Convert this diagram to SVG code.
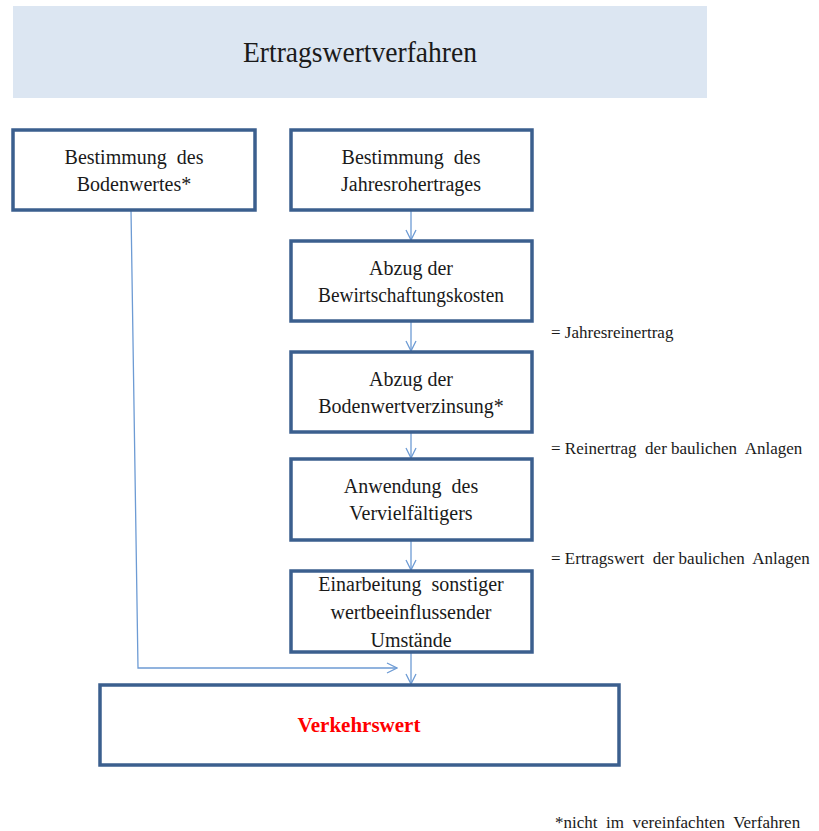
<svg xmlns="http://www.w3.org/2000/svg" width="819" height="831" viewBox="0 0 819 831">
<style>
.box{fill:#fff;stroke:#3b5f8e;stroke-width:3.5}
.t{font-family:'Liberation Serif','Times New Roman',serif;font-size:20px;fill:#1a1a1a;text-anchor:middle}
.a{font-family:'Liberation Serif','Times New Roman',serif;font-size:17px;fill:#1a1a1a}
.c{fill:none;stroke:#6d9bd4;stroke-width:1.3}
</style>
<defs>
<marker id="arr" viewBox="0 0 12 12" refX="11" refY="6" markerWidth="12" markerHeight="12" markerUnits="userSpaceOnUse" orient="auto">
<path d="M1,1 L11,6 L1,11" fill="none" stroke="#6d9bd4" stroke-width="1.3"/>
</marker>
</defs>
<rect width="819" height="831" fill="#fff"/>
<g id="title">
<rect x="13" y="6" width="694" height="92" fill="#dce6f2"/>
<text x="360" y="62" font-family="'Liberation Serif','Times New Roman',serif" font-size="29" fill="#1a1a1a" text-anchor="middle" textLength="234" lengthAdjust="spacingAndGlyphs">Ertragswertverfahren</text>
</g>
<g id="connectors">
<path class="c" d="M411,210 V240" marker-end="url(#arr)"/>
<path class="c" d="M411,321 V351" marker-end="url(#arr)"/>
<path class="c" d="M411,432 V458" marker-end="url(#arr)"/>
<path class="c" d="M411,540 V570" marker-end="url(#arr)"/>
<path class="c" d="M411,652 V684" marker-end="url(#arr)"/>
<path class="c" d="M131,210 L138,668 H397" marker-end="url(#arr)"/>
</g>
<g id="n1" font-family="'Liberation Serif','Times New Roman',serif">
<rect class="box" x="13" y="130" width="242" height="80"/>
<text class="t" x="134" y="164" xml:space="preserve">Bestimmung  des</text>
<text class="t" x="134" y="191">Bodenwertes*</text>
</g>
<g id="n2" font-family="'Liberation Serif','Times New Roman',serif">
<rect class="box" x="291" y="130" width="241" height="80"/>
<text class="t" x="411" y="164" xml:space="preserve">Bestimmung  des</text>
<text class="t" x="411" y="191">Jahresrohertrages</text>
</g>
<g id="n3" font-family="'Liberation Serif','Times New Roman',serif">
<rect class="box" x="291" y="241" width="241" height="80"/>
<text class="t" x="411" y="275">Abzug der</text>
<text class="t" x="411" y="302" textLength="186" lengthAdjust="spacingAndGlyphs">Bewirtschaftungskosten</text>
</g>
<g id="n4" font-family="'Liberation Serif','Times New Roman',serif">
<rect class="box" x="291" y="352" width="241" height="80"/>
<text class="t" x="411" y="386">Abzug der</text>
<text class="t" x="411" y="413">Bodenwertverzinsung*</text>
</g>
<g id="n5" font-family="'Liberation Serif','Times New Roman',serif">
<rect class="box" x="291" y="459" width="241" height="81"/>
<text class="t" x="411" y="493" xml:space="preserve">Anwendung  des</text>
<text class="t" x="411" y="520">Vervielfältigers</text>
</g>
<g id="n6" font-family="'Liberation Serif','Times New Roman',serif">
<rect class="box" x="291" y="571" width="241" height="81"/>
<text class="t" x="411" y="591" xml:space="preserve">Einarbeitung  sonstiger</text>
<text class="t" x="411" y="619">wertbeeinflussender</text>
<text class="t" x="411" y="647">Umstände</text>
</g>
<g id="n7">
<rect class="box" x="100" y="685" width="519" height="80"/>
<text x="359" y="732" font-family="'Liberation Serif','Times New Roman',serif" font-size="21" font-weight="bold" fill="#ff0000" text-anchor="middle">Verkehrswert</text>
</g>
<g id="annotations" font-family="'Liberation Serif','Times New Roman',serif">
<text class="a" x="551" y="338">= Jahresreinertrag</text>
<text class="a" x="551" y="454" xml:space="preserve">= Reinertrag  der baulichen  Anlagen</text>
<text class="a" x="551" y="564" xml:space="preserve">= Ertragswert  der baulichen  Anlagen</text>
<text class="a" x="555" y="828" xml:space="preserve">*nicht  im  vereinfachten  Verfahren</text>
</g>
</svg>
